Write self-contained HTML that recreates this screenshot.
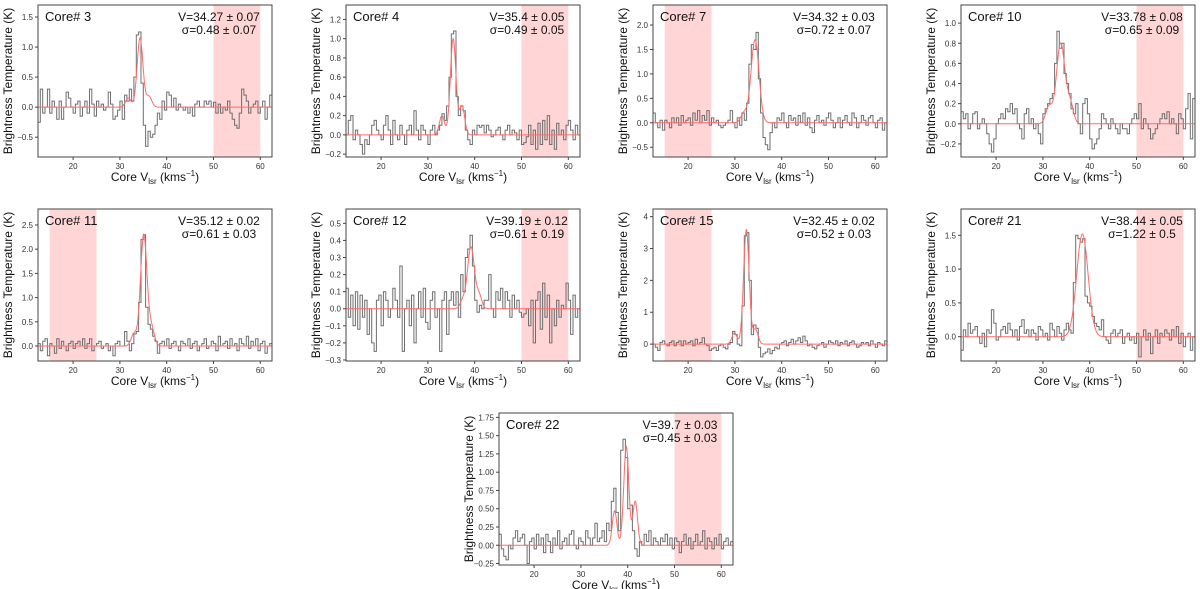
<!DOCTYPE html>
<html><head><meta charset="utf-8">
<style>
html,body{margin:0;padding:0;background:#fff;}
svg{display:block;font-family:"Liberation Sans","DejaVu Sans",sans-serif;}
</style></head>
<body>
<svg id="fig" width="1200" height="589" viewBox="0 0 1200 589" xmlns="http://www.w3.org/2000/svg"></svg>
<script>
// ---- data ----
const coreNames = ["Core# 3","Core# 4","Core# 7","Core# 10","Core# 11","Core# 12","Core# 15","Core# 21","Core# 22"];
const vText = ["V=34.27 ± 0.07","V=35.4 ± 0.05","V=34.32 ± 0.03","V=33.78 ± 0.08","V=35.12 ± 0.02","V=39.19 ± 0.12","V=32.45 ± 0.02","V=38.44 ± 0.05","V=39.7 ± 0.03"];
const sText = ["σ=0.48 ± 0.07","σ=0.49 ± 0.05","σ=0.72 ± 0.07","σ=0.65 ± 0.09","σ=0.61 ± 0.03","σ=0.61 ± 0.19","σ=0.52 ± 0.03","σ=1.22 ± 0.5","σ=0.45 ± 0.03"];
const velStart = 12.5;
const velStep = 0.5;
const xTicks = [20,30,40,50,60];
const yMin = [-0.83,-0.23,-0.70,-0.33,-0.31,-0.306,-0.53,-0.36,-0.27];
const yMax = [1.70,1.35,2.41,1.18,2.83,0.584,4.24,1.89,1.81];
const yTicks = [
 [-0.5,0,0.5,1,1.5],
 [-0.2,0,0.2,0.4,0.6,0.8,1.0,1.2],
 [-0.5,0,0.5,1,1.5,2],
 [-0.2,0,0.2,0.4,0.6,0.8,1.0],
 [0,0.5,1,1.5,2,2.5],
 [-0.3,-0.2,-0.1,0,0.1,0.2,0.3,0.4,0.5],
 [0,1,2,3,4],
 [0,0.5,1,1.5],
 [-0.25,0,0.25,0.5,0.75,1,1.25,1.5,1.75]
];
const yDecimals = [1,1,1,1,1,1,0,1,2];
const shadeStart = [50,50,15,50,15,50,15,50,50];
const shadeEnd = [60,60,25,60,25,60,25,60,60];
const spec3 = [-0.25,0.3,-0.1,0.0,0.3,-0.1,0.1,0.0,-0.2,0.1, -0.2,0.0,0.25,0.15,0.0,-0.1,0.05,0.1,-0.15,0.0, 0.1,-0.1,0.3,0.05,-0.15,0.1,0.0,0.05,-0.05,0.0, 0.25,0.05,-0.2,-0.15,-0.05,0.1,-0.2,0.2,0.1,0.3, 0.1,0.5,1.2,1.25,0.4,-0.3,-0.65,-0.4,-0.5,-0.45, -0.3,-0.1,-0.2,0.1,-0.05,0.25,0.2,0.0,0.15,-0.05, 0.05,0.0,-0.05,0.0,-0.1,0.0,-0.15,0.05,0.1,0.0, 0.0,0.1,0.05,0.1,0.0,0.08,-0.1,0.05,-0.1,0.0, -0.05,0.1,-0.1,-0.2,-0.3,-0.35,-0.1,0.3,0.2,0.1, -0.1,0.0,0.05,0.1,-0.1,0.0,0.1,-0.2,0.0,0.2];
const spec4 = [0.0,0.15,0.2,-0.05,0.05,0.0,-0.1,-0.2,-0.05,-0.1, 0.0,0.1,0.15,0.05,0.0,-0.05,0.1,0.2,0.05,-0.1, 0.15,0.0,-0.05,0.1,0.0,-0.1,0.05,0.1,0.0,0.25, 0.05,-0.05,0.1,0.05,0.0,-0.1,0.05,0.1,0.0,0.05, 0.1,0.22,0.15,0.3,0.6,1.05,1.08,0.4,0.2,0.3, 0.25,0.05,-0.05,-0.1,0.05,0.0,0.1,0.08,0.1,0.02, 0.1,0.05,-0.02,0.0,0.05,0.08,0.0,-0.05,0.05,0.1, 0.0,0.05,0.02,-0.05,0.05,-0.1,-0.08,-0.02,0.1,-0.1, 0.05,-0.15,0.12,-0.1,0.15,-0.05,0.2,-0.1,0.05,-0.15, 0.12,0.0,0.05,-0.05,0.1,0.15,0.05,-0.05,0.1,0.0];
const spec7 = [0.2,0.0,-0.1,0.05,-0.15,0.05,0.0,-0.1,0.1,0.0, 0.1,-0.05,0.15,0.0,0.05,0.1,-0.05,0.2,0.05,0.25, 0.0,0.15,0.05,0.25,-0.05,0.1,0.0,0.05,-0.05,-0.1, -0.05,0.0,0.05,0.25,0.0,-0.1,0.1,-0.05,0.2,0.05, 0.4,1.2,1.6,1.5,1.85,0.9,0.2,-0.3,-0.45,-0.55, -0.2,0.0,-0.1,0.1,0.05,0.2,0.0,-0.1,0.15,0.05, 0.1,-0.05,0.15,0.0,0.2,-0.05,0.1,-0.1,-0.2,0.05, 0.15,0.0,0.05,-0.05,0.1,0.2,0.05,-0.1,0.0,0.1, -0.1,0.05,0.15,0.0,-0.05,0.2,0.1,-0.1,0.0,0.15, 0.05,-0.05,0.1,0.15,0.0,-0.1,0.05,0.1,-0.15,0.0];
const spec10 = [0.12,0.05,0.1,-0.05,0.0,0.1,0.12,-0.05,0.0,0.05, 0.0,-0.1,-0.2,-0.28,-0.15,0.0,0.05,0.1,0.05,0.15, 0.12,0.2,0.1,0.15,0.0,-0.05,-0.15,0.1,0.15,0.0, 0.05,-0.05,0.0,-0.1,-0.2,0.1,0.15,0.2,0.25,0.3, 0.6,0.92,0.75,0.8,0.5,0.4,0.3,0.15,0.1,0.2, 0.0,-0.1,0.2,0.25,0.1,-0.15,-0.25,-0.2,-0.15,-0.05, 0.1,0.05,0.0,-0.05,0.05,0.0,-0.05,-0.1,0.0,-0.05, -0.05,-0.1,0.0,0.05,0.1,0.05,0.2,-0.05,0.05,0.0, -0.05,-0.15,-0.1,-0.05,0.0,0.05,0.1,0.05,0.12,0.0, 0.05,0.0,-0.1,0.1,0.05,-0.05,0.15,0.3,-0.15,0.25];
const spec11 = [0.05,-0.1,0.1,0.15,-0.2,0.05,0.0,-0.15,0.15,-0.05, 0.1,0.0,-0.1,0.05,0.1,-0.05,0.05,0.1,0.0,0.15, -0.05,0.05,0.15,-0.1,0.0,0.05,0.1,-0.05,0.0,0.05, -0.1,0.0,-0.2,0.05,0.1,0.0,0.0,0.3,0.1,-0.1, 0.05,0.25,0.3,0.9,2.2,2.3,0.8,0.45,0.35,0.2, 0.1,-0.15,0.05,0.1,0.0,0.15,-0.05,0.05,0.1,0.0, -0.1,0.1,0.05,0.0,0.15,-0.05,0.05,0.1,-0.1,0.0, 0.05,0.15,-0.05,0.0,0.1,0.05,-0.1,0.2,0.0,0.05, 0.1,-0.05,0.15,0.0,0.05,-0.1,0.15,0.05,0.0,0.2, -0.05,0.1,0.0,0.15,-0.1,0.05,0.1,-0.15,0.0,0.05];
const spec12 = [0.12,-0.05,0.08,-0.1,0.1,-0.12,0.08,-0.05,0.05,-0.15, 0.0,-0.2,-0.25,0.05,0.08,-0.1,0.1,0.05,-0.05,0.0, 0.12,0.05,-0.05,0.25,-0.25,0.0,0.05,-0.1,0.08,-0.2, 0.0,0.1,-0.05,0.12,-0.08,-0.12,0.05,0.1,-0.05,0.0, -0.25,0.05,0.1,-0.15,0.05,0.1,0.02,0.1,-0.05,0.2, 0.1,0.3,0.35,0.43,0.25,0.05,-0.02,0.02,0.0,0.05, 0.05,0.2,0.0,-0.05,0.1,0.05,0.12,0.0,0.1,0.05, -0.05,0.08,0.0,0.05,-0.02,-0.05,-0.03,0.0,-0.1,0.05, -0.2,0.05,0.1,-0.12,0.15,-0.05,0.08,-0.2,0.0,-0.1, 0.05,-0.05,0.02,0.0,0.15,0.05,-0.15,0.08,-0.05,0.0];
const spec15 = [0.0,-0.1,-0.2,0.05,0.1,0.0,-0.05,0.05,0.1,-0.05, 0.05,0.1,-0.05,0.1,0.0,0.05,0.1,-0.05,0.15,0.0, 0.05,0.2,0.0,-0.05,-0.2,-0.15,-0.1,-0.2,-0.05,0.0, -0.1,-0.15,0.0,0.05,0.4,0.3,0.0,-0.05,1.2,3.4, 3.5,2.0,0.3,0.6,0.5,-0.1,-0.4,-0.3,-0.25,-0.15, -0.3,-0.2,-0.1,-0.15,0.0,0.05,0.1,-0.05,0.05,0.15, 0.0,0.1,0.2,0.05,0.25,0.1,-0.05,0.0,-0.1,-0.15, -0.05,0.0,0.05,-0.1,0.0,0.1,0.05,0.0,0.1,-0.05, 0.05,0.0,0.1,-0.05,0.05,0.1,0.0,-0.1,-0.05,0.05, 0.0,0.05,-0.05,0.1,0.0,-0.1,0.05,0.0,-0.05,0.1];
const spec21 = [-0.2,0.1,0.0,0.2,0.05,0.1,0.15,0.0,-0.1,0.05, -0.15,0.1,0.05,0.4,0.2,-0.05,0.0,0.1,0.15,0.05, 0.2,0.1,0.0,0.1,-0.05,0.15,0.25,0.05,0.1,0.0, 0.1,0.05,-0.05,0.15,0.1,0.0,0.05,-0.05,0.2,0.1, 0.0,0.15,0.05,-0.05,0.1,0.2,0.1,0.05,0.8,1.5, 1.45,1.4,1.45,0.6,0.5,0.45,0.3,0.2,0.15,0.1, 0.25,0.0,-0.05,-0.1,0.05,0.1,0.0,0.05,0.1,-0.1, 0.0,0.05,-0.05,0.0,-0.1,0.05,-0.3,0.0,0.1,-0.05, 0.05,-0.25,0.0,0.1,-0.1,0.05,0.0,0.1,0.05,-0.05, 0.1,0.0,0.15,-0.1,0.05,-0.15,0.0,0.05,-0.2,0.0];
const spec22 = [0.15,-0.05,-0.15,-0.2,0.0,-0.05,0.1,0.2,0.05,0.1, 0.15,0.0,-0.25,0.05,0.1,-0.05,0.15,0.0,0.1,-0.1, 0.15,0.05,-0.1,0.1,0.0,0.2,-0.05,0.05,0.1,0.0, 0.15,0.2,0.0,-0.05,0.1,0.05,0.0,0.2,0.1,0.0, 0.1,0.3,0.05,0.1,0.2,0.05,0.3,0.2,0.6,0.78, 0.45,0.2,1.3,1.45,1.2,0.5,0.55,0.2,-0.05,-0.15, 0.05,0.0,0.15,0.05,0.2,0.0,0.1,0.05,0.0,0.1, 0.05,0.15,0.0,0.1,-0.05,0.1,0.05,-0.1,0.05,0.15, 0.0,0.1,-0.05,0.05,0.15,0.0,0.05,0.2,-0.05,0.1, 0.05,-0.05,0.1,0.0,0.15,-0.05,0.05,0.1,0.0,0.05];
const spectra = [spec3,spec4,spec7,spec10,spec11,spec12,spec15,spec21,spec22];
// fit components (centre, amplitude, sigma)
const fitCenters = [[31.8,34.3,36.2],[33.0,35.4,37.3],[32.0,34.3],[31.3,33.8,35.8],[33.0,35.1,36.8],[37.5,39.2,40.9],[29.9,32.45,34.4],[38.44],[37.2,39.7,41.6]];
const fitAmps = [[0.15,1.15,0.18],[0.2,1.0,0.3],[0.2,1.7],[0.17,0.8,0.2],[0.25,2.3,0.35],[0.05,0.36,0.08],[0.35,3.6,0.45],[1.52],[0.47,1.35,0.6]];
const fitSigmas = [[0.6,0.62,0.6],[0.55,0.6,0.55],[0.7,0.85],[0.7,0.9,0.7],[0.6,0.7,0.6],[0.6,0.72,0.6],[0.55,0.6,0.55],[1.22],[0.5,0.55,0.5]];

// ---- layout ----
const panelLeft = [38,346,653,961,38,346,653,961,499];
const panelTop = [5,5,5,5,209,209,209,209,413];
const PW = 234, PH = 152;
const X0 = 12.5, X1 = 62.5;
const NS = "http://www.w3.org/2000/svg";
const svg = document.getElementById('fig');
function mk(tag, attrs, parent){const e=document.createElementNS(NS,tag);for(const k in attrs)e.setAttribute(k,attrs[k]);(parent||svg).appendChild(e);return e;}

for(let p=0;p<9;p++){
  const L=panelLeft[p], T=panelTop[p];
  const xs=v=>L+(v-X0)/(X1-X0)*PW;
  const ys=y=>T+PH-(y-yMin[p])/(yMax[p]-yMin[p])*PH;
  const g=mk('g',{});
  
  
  const cp=mk('clipPath',{id:'cp'+p},g);
  mk('rect',{x:L,y:T,width:PW,height:PH},cp);
  const sh=mk('rect',{x:xs(shadeStart[p]),y:T,width:xs(shadeEnd[p])-xs(shadeStart[p]),height:PH,fill:'#ffd5d5'},g);
  
  
  const sp=spectra[p];
  let d='';
  for(let i=0;i<sp.length;i++){
    const a=xs(velStart+i*velStep), b=xs(velStart+(i+1)*velStep), y=ys(sp[i]);
    d+=(i===0?'M':'L')+a.toFixed(1)+','+y.toFixed(1)+'L'+b.toFixed(1)+','+y.toFixed(1);
  }
  const sl=mk('path',{d:d,fill:'none',stroke:'#6e6e6e','stroke-width':1,'clip-path':'url(#cp'+p+')'},g);
  
  
  let fd='';
  for(let k=0;k<=500;k++){
    const v=X0+k*(X1-X0)/500;
    let y=0;
    for(let c=0;c<fitCenters[p].length;c++){const z=(v-fitCenters[p][c])/fitSigmas[p][c];y+=fitAmps[p][c]*Math.exp(-0.5*z*z);}
    fd+=(k===0?'M':'L')+xs(v).toFixed(1)+','+ys(y).toFixed(1);
  }
  const fl=mk('path',{d:fd,fill:'none',stroke:'#ff6b6b','stroke-width':1,'clip-path':'url(#cp'+p+')'},g);
  
  
  const fr=mk('rect',{x:L,y:T,width:PW,height:PH,fill:'none',stroke:'#444','stroke-width':1},g);
  
  
  xTicks.forEach(t=>{
    const x=xs(t);
    mk('line',{x1:x,y1:T+PH,x2:x,y2:T+PH+3,stroke:'#444'},g);
    const tl=mk('text',{x:x,y:T+PH+12,'font-size':8,'text-anchor':'middle',fill:'#333'},g);
    tl.textContent=t;
    
    
  });
  yTicks[p].forEach(t=>{
    const y=ys(t);
    mk('line',{x1:L-3,y1:y,x2:L,y2:y,stroke:'#444'},g);
    const tl=mk('text',{x:L-5,y:y+3,'font-size':8,'text-anchor':'end',fill:'#333'},g);
    tl.textContent=(t<0?'−':'')+Math.abs(t).toFixed(yDecimals[p]);
    
    
  });
  const xl=mk('text',{x:L+PW/2,y:T+PH+24,'font-size':12,'text-anchor':'middle',fill:'#111'},g);
  xl.innerHTML='Core V<tspan font-size="8" dy="3">lsr</tspan><tspan dy="-3"> (kms</tspan><tspan font-size="8" dy="-5">−1</tspan><tspan dy="5">)</tspan>';
  
  
  const yl=mk('text',{x:0,y:0,'font-size':12,'text-anchor':'middle',fill:'#111',transform:'translate('+(L-26)+','+(T+PH/2)+') rotate(-90)'},g);
  yl.textContent='Brightness Temperature (K)';
  
  
  const cl=mk('text',{x:L+7,y:T+16,'font-size':13,fill:'#111'},g);
  cl.textContent=coreNames[p];
  
  
  const vl=mk('text',{x:L+PW-53,y:T+16,'font-size':12,'text-anchor':'middle',fill:'#111'},g);
  vl.textContent=vText[p];
  
  
  const sl2=mk('text',{x:L+PW-53,y:T+29,'font-size':12,'text-anchor':'middle',fill:'#111'},g);
  sl2.textContent=sText[p];
  
  
}
</script>
</body></html>
